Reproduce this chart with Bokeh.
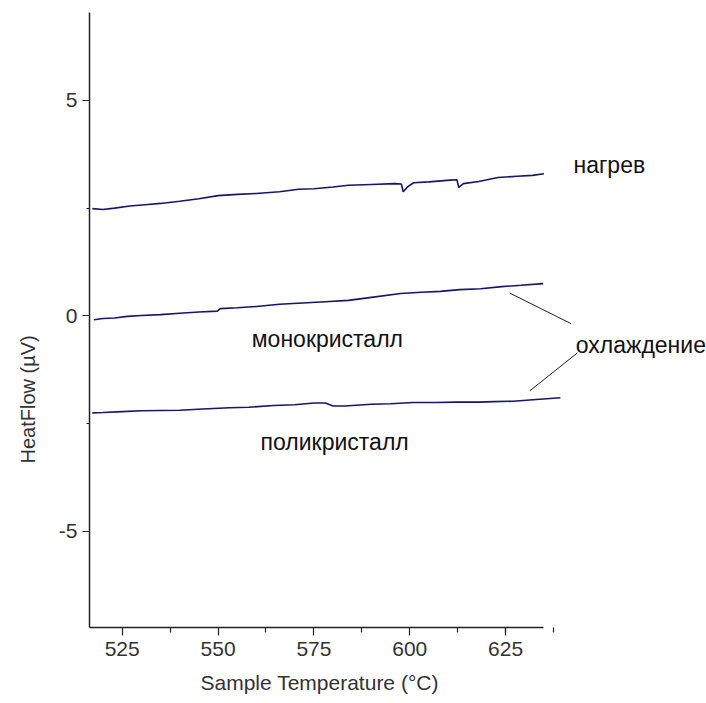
import math
from bokeh.plotting import figure
from bokeh.models import FixedTicker, Label, Range1d, Title
from bokeh.embed import file_html
from bokeh.resources import INLINE

# ---- data ----
heat_x = [517.2, 520, 523, 527, 531, 535, 540, 545, 550, 555, 560, 566, 571, 575, 580, 584,
          590, 596, 597.8, 598.3, 599.5, 601, 605, 610.5, 612.3, 612.8, 614, 618, 623, 628, 632, 635]
heat_y = [2.49, 2.47, 2.50, 2.55, 2.58, 2.61, 2.66, 2.72, 2.79, 2.82, 2.84, 2.88, 2.94, 2.95, 2.99, 3.03,
          3.05, 3.07, 3.06, 2.88, 3.00, 3.09, 3.11, 3.15, 3.16, 2.98, 3.07, 3.12, 3.21, 3.24, 3.26, 3.30]

mono_x = [517.6, 520, 523, 526.3, 530, 535, 540, 545, 549.8, 550.6, 555, 560, 566, 572, 578, 584,
          590, 597.6, 603, 608, 613, 618.5, 624, 629, 634.8]
mono_y = [-0.09, -0.06, -0.05, -0.01, 0.01, 0.03, 0.06, 0.09, 0.11, 0.17, 0.19, 0.22, 0.27, 0.30, 0.33, 0.36,
          0.43, 0.52, 0.55, 0.57, 0.61, 0.63, 0.68, 0.71, 0.75]

poly_x = [517.2, 520, 525, 530, 540, 546, 553, 558, 564.5, 570, 575, 578, 580, 583, 590, 595,
          601, 607, 612, 618, 622, 627, 633, 639.3]
poly_y = [-2.25, -2.24, -2.22, -2.20, -2.19, -2.16, -2.13, -2.12, -2.08, -2.06, -2.02, -2.02, -2.09, -2.09, -2.05, -2.04,
          -2.01, -2.01, -2.00, -2.00, -1.99, -1.98, -1.94, -1.90]

x_major = [525, 550, 575, 600, 625]
x_minor = [512.5, 537.5, 562.5, 587.5, 612.5, 625, 637.5]
y_major = [-5, 0, 5]
y_minor = [-7.5, -5, -2.5, 0, 2.5, 5]

x_title = "Sample Temperature (°C)"
y_title = "HeatFlow (µV)"

# annotations: (text, x, baseline y)
notes = [("нагрев", 642.7, 3.49),
         ("монокристалл", 558.8, -0.53),
         ("поликристалл", 561.1, -2.93),
         ("охлаждение", 643.3, -0.68)]
leader_x = [[626.1, 642.1], [631.3, 643.7]]
leader_y = [[0.53, -0.18], [-1.74, -0.86]]

FONT = "Liberation Sans"
INK = "#222222"

p = figure(width=706, height=703, output_backend="svg", toolbar_location=None,
           x_range=Range1d(516.47, 677.4), y_range=Range1d(-7.23, 7.04),
           min_border_left=89, min_border_right=0, min_border_top=12, min_border_bottom=76)
p.outline_line_color = None
p.grid.visible = False
p.background_fill_color = "white"

for ax in (p.xaxis[0], p.yaxis[0]):
    ax.axis_line_color = INK
    ax.axis_line_width = 1.5
    ax.major_tick_line_color = INK
    ax.minor_tick_line_color = INK
    ax.major_tick_line_width = 1.2
    ax.minor_tick_line_width = 1.2
    ax.major_tick_in = 0
    ax.minor_tick_in = 0
    ax.major_label_text_font = FONT
    ax.major_label_text_font_size = "21px"
    ax.major_label_text_color = "#333333"

p.xaxis[0].ticker = FixedTicker(ticks=x_major, minor_ticks=x_minor)
p.xaxis[0].bounds = (516.6, 635)
p.xaxis[0].major_tick_out = 8
p.xaxis[0].minor_tick_out = 5
p.xaxis[0].major_label_standoff = 6

p.yaxis[0].ticker = FixedTicker(ticks=y_major, minor_ticks=y_minor)
p.yaxis[0].major_label_overrides = {-5: "-5"}
p.yaxis[0].major_tick_out = 7
p.yaxis[0].minor_tick_out = 3
p.yaxis[0].major_label_standoff = 5

LINE = "#16166a"
p.line(heat_x, heat_y, line_color=LINE, line_width=1.6)
p.line(mono_x, mono_y, line_color=LINE, line_width=1.6)
p.line(poly_x, poly_y, line_color=LINE, line_width=1.6)

for lx, ly in zip(leader_x, leader_y):
    p.line(lx, ly, line_color="#222222", line_width=1)

for t, x, y in notes:
    p.add_layout(Label(x=x, y=y, text=t, text_font=FONT, text_font_size="23px",
                       text_color="#111111", text_baseline="alphabetic", text_align="left"))

# axis titles as positioned titles
p.add_layout(Title(text=x_title, align="left", offset=111, standoff=20,
                   text_font=FONT, text_font_size="21px", text_font_style="normal",
                   text_color="#333333"), "below")
p.add_layout(Title(text=y_title, align="left", offset=164, standoff=30, vertical_align="top",
                   text_font=FONT, text_font_size="20px", text_font_style="normal",
                   text_color="#333333"), "left")

open("out.html", "w").write(file_html(p, INLINE))
